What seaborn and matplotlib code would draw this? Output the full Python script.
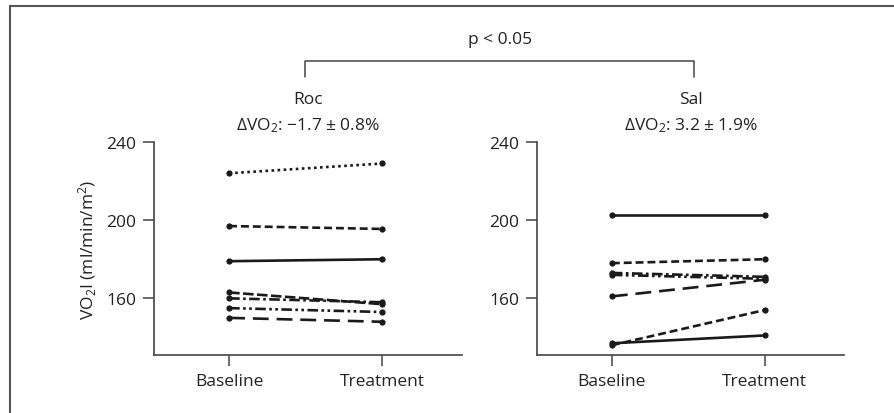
import pandas as pd
import matplotlib
matplotlib.use('Agg')
import matplotlib.pyplot as plt
from matplotlib.lines import Line2D
import seaborn as sns

# data
phases = ['Baseline', 'Treatment']
roc_base = [224, 197, 179, 163, 160, 155, 150]
roc_treat = [229, 195.5, 180, 157, 158, 153, 148]
sal_base = [202.5, 178, 173, 172, 161, 136, 137]
sal_treat = [202.5, 180, 171, 170, 169.5, 154, 141]

roc_styles = [(1, 1.3), (3, 1.5), '', (4, 1.3), (4, 1.3, 1, 1.3), (4, 1.3, 1, 1.3, 1, 1.3), (6, 3)]
sal_styles = ['', (3, 1.5), (4, 1.3, 1, 1.3), (4, 1.3, 1, 1.3, 1, 1.3), (6, 3), (3, 1.5), '']

sns.set_style('ticks')
plt.rcParams['font.family'] = ['Open Sans', 'DejaVu Sans']
plt.rcParams['mathtext.fontset'] = 'custom'
plt.rcParams['mathtext.rm'] = 'Open Sans'
plt.rcParams['mathtext.it'] = 'Open Sans:italic'

FS = 12.5


def make_df(base, treat):
    rows = []
    for i, (b, t) in enumerate(zip(base, treat)):
        rows.append({'subject': f's{i}', 'pos': 0, 'vo2': b})
        rows.append({'subject': f's{i}', 'pos': 1, 'vo2': t})
    return pd.DataFrame(rows)


fig = plt.figure(figsize=(8.94, 4.14), dpi=100)
ax1 = fig.add_axes([0.1723, 0.1401, 0.3445, 0.5145])
ax2 = fig.add_axes([0.6007, 0.1401, 0.3434, 0.5145])

panels = [
    (ax1, roc_base, roc_treat, roc_styles, 'Roc', '\u0394VO$_2$: \u22121.7 \u00b1 0.8%'),
    (ax2, sal_base, sal_treat, sal_styles, 'Sal', '\u0394VO$_2$: 3.2 \u00b1 1.9%'),
]

for ax, base, treat, styles, name, delta in panels:
    df = make_df(base, treat)
    dashes = {f's{i}': s for i, s in enumerate(styles)}
    sns.lineplot(data=df, x='pos', y='vo2', style='subject', dashes=dashes,
                 color='#1a1a1a', linewidth=1.9, marker='o', markersize=4.5,
                 markeredgewidth=0, legend=False, ax=ax)
    ax.set_xlim(-0.49, 1.52)
    ax.set_ylim(131, 240)
    ax.set_xticks([0, 1])
    ax.set_xticklabels(phases)
    ax.set_yticks([160, 200, 240])
    ax.set_xlabel('')
    ax.set_ylabel('')
    sns.despine(ax=ax)
    for sp in ['left', 'bottom']:
        ax.spines[sp].set_color('#444444')
        ax.spines[sp].set_linewidth(1.2)
    ax.tick_params(axis='both', colors='#444444', labelcolor='#222222',
                   labelsize=FS, length=8, width=1.1, pad=5)
    ax.text(0.5, 1.20, name, transform=ax.transAxes, ha='center', va='center',
            fontsize=FS, color='#222222')
    ax.text(0.5, 1.08, delta, transform=ax.transAxes, ha='center', va='center',
            fontsize=FS, color='#222222')

ax1.set_ylabel('VO$_2$I (ml/min/m$^2$)', fontsize=FS, color='#222222', labelpad=5)

# significance bracket
W, H = 894, 414
bx = [305 / W, 305 / W, 694 / W, 694 / W]
by = [1 - 78 / H, 1 - 62 / H, 1 - 62 / H, 1 - 78 / H]
fig.add_artist(Line2D(bx, by, color='#444444', linewidth=1.1))
fig.text(500 / W, 1 - 40 / H, 'p < 0.05', ha='center', va='center',
         fontsize=FS, color='#222222')

# frame lines (top and left)
fig.add_artist(Line2D([10 / W, 1], [1 - 7 / H, 1 - 7 / H], color='#555555', linewidth=1.5))
fig.add_artist(Line2D([10 / W, 10 / W], [0, 1 - 7 / H], color='#555555', linewidth=1.5))

fig.savefig('out.png', dpi=100)
